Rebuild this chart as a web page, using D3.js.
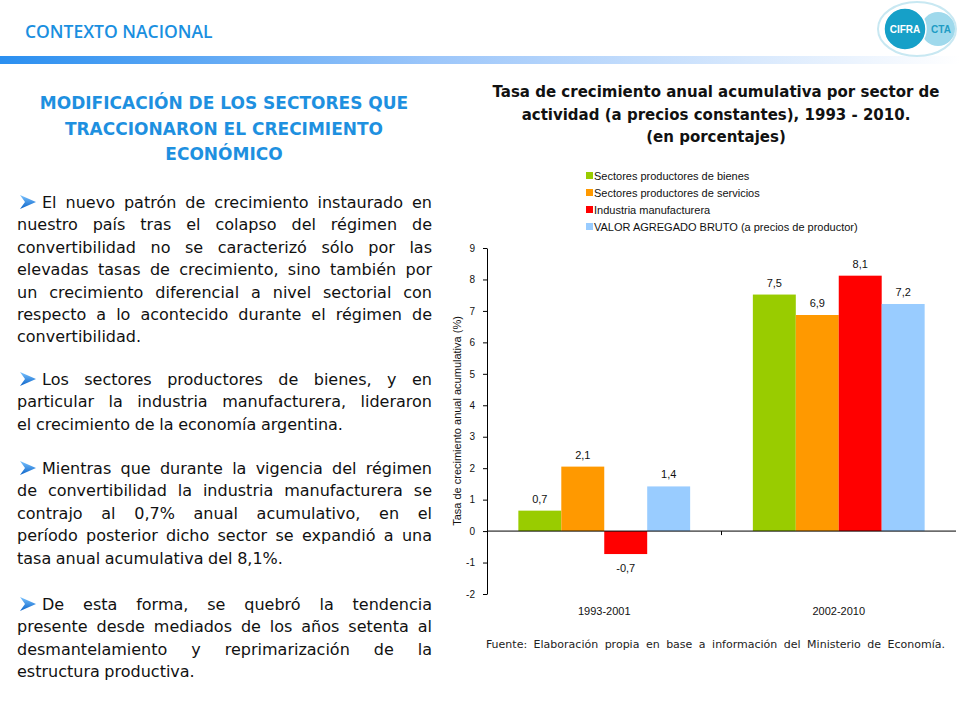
<!DOCTYPE html>
<html>
<head>
<meta charset="utf-8">
<script src="https://cdn.jsdelivr.net/npm/d3@7"></script>
<style>
  body { margin: 0; background: #fff; }
  svg { display: block; }
</style>
</head>
<body>
<svg id="svgId" width="960" height="720"></svg>
<script>
const svg = d3.select("svg");

// chart data
const periods = ["1993-2001", "2002-2010"];
const sectors = [
    "Sectores productores de bienes",
    "Sectores productores de servicios",
    "Industria manufacturera",
    "VALOR AGREGADO BRUTO (a precios de productor)"
];
const sectorColors = ["#99cc00", "#ff9900", "#ff0000", "#99ccff"];
const growth1993 = [0.65, 2.05, -0.73, 1.42];
const growth2002 = [7.52, 6.87, 8.12, 7.22];
const growthLabels1993 = ["0,7", "2,1", "-0,7", "1,4"];
const growthLabels2002 = ["7,5", "6,9", "8,1", "7,2"];
const yTicks = [-2, -1, 0, 1, 2, 3, 4, 5, 6, 7, 8, 9];

const titleLines = [
    "Tasa de crecimiento anual acumulativa por sector de",
    "actividad (a precios constantes), 1993 - 2010.",
    "(en porcentajes)"
];
const headingLines = [
    "MODIFICACIÓN DE LOS SECTORES QUE",
    "TRACCIONARON EL CRECIMIENTO",
    "ECONÓMICO"
];
// body paragraphs, one entry per printed line
const paragraphs = [
    ["El nuevo patrón de crecimiento instaurado en",
     "nuestro país tras el colapso del régimen de",
     "convertibilidad no se caracterizó sólo por las",
     "elevadas tasas de crecimiento, sino también por",
     "un crecimiento diferencial a nivel sectorial con",
     "respecto a lo acontecido durante el régimen de",
     "convertibilidad."],
    ["Los sectores productores de bienes, y en",
     "particular la industria manufacturera, lideraron",
     "el crecimiento de la economía argentina."],
    ["Mientras que durante la vigencia del régimen",
     "de convertibilidad la industria manufacturera se",
     "contrajo al 0,7% anual acumulativo, en el",
     "período posterior dicho sector se expandió a una",
     "tasa anual acumulativa del 8,1%."],
    ["De esta forma, se quebró la tendencia",
     "presente desde mediados de los años setenta al",
     "desmantelamiento y reprimarización de la",
     "estructura productiva."]
];
const paragraphTops = [208, 385, 474, 610];
const sourceText = "Fuente: Elaboración propia en base a información del Ministerio de Economía.";

const blue = "#1e90e0";
const slideFont = "'DejaVu Sans', sans-serif";
const chartFont = "'Liberation Sans', Arial, sans-serif";

// ---------- slide header ----------
const defs = svg.append("defs");
const grad = defs.append("linearGradient").attr("id", "bar-grad");
grad.append("stop").attr("offset", "0%").attr("stop-color", "#2a8ff0");
grad.append("stop").attr("offset", "45%").attr("stop-color", "#9cc6fa");
grad.append("stop").attr("offset", "100%").attr("stop-color", "#ffffff");
const arrowGrad = defs.append("linearGradient").attr("id", "arrow-grad")
    .attr("x1", "0").attr("y1", "0").attr("x2", "0").attr("y2", "1");
arrowGrad.append("stop").attr("offset", "0%").attr("stop-color", "#7cc4ff");
arrowGrad.append("stop").attr("offset", "100%").attr("stop-color", "#0a63c9");

svg.append("rect").attr("x", 0).attr("y", 56).attr("width", 960).attr("height", 8)
    .attr("fill", "url(#bar-grad)");

svg.append("text").attr("x", 25).attr("y", 38)
    .attr("font-family", "'Open Sans', sans-serif").attr("font-size", 17.5).attr("font-weight", 600)
    .attr("fill", "#1a8fe0")
    .text("CONTEXTO NACIONAL");

// logo
const logo = svg.append("g");
logo.append("ellipse").attr("cx", 917).attr("cy", 29).attr("rx", 39).attr("ry", 27)
    .attr("fill", "#fff").attr("stroke", "#c8e8f2").attr("stroke-width", 2);
logo.append("circle").attr("cx", 938).attr("cy", 29).attr("r", 17).attr("fill", "#9fd9ec");
logo.append("circle").attr("cx", 905).attr("cy", 29).attr("r", 21).attr("fill", "#16a0c8")
    .attr("stroke", "#ffffff").attr("stroke-width", 1.5);
logo.append("text").attr("x", 905).attr("y", 33).attr("text-anchor", "middle")
    .attr("font-family", chartFont).attr("font-weight", "bold").attr("font-size", 10)
    .attr("fill", "#fff").text("CIFRA");
logo.append("text").attr("x", 941).attr("y", 33).attr("text-anchor", "middle")
    .attr("font-family", chartFont).attr("font-weight", "bold").attr("font-size", 10)
    .attr("fill", "#1e9cc4").text("CTA");

// ---------- left column ----------
svg.append("g").selectAll("text")
    .data(headingLines)
    .enter()
    .append("text")
    .attr("x", 224)
    .attr("y", (d, i) => 109 + i * 25.5)
    .attr("text-anchor", "middle")
    .attr("font-family", slideFont).attr("font-size", 17).attr("font-weight", "bold")
    .attr("fill", blue)
    .text(d => d);

const bodyLeft = 17, bodyRight = 432, lineGap = 22.4;
const body = svg.append("g").attr("font-family", slideFont).attr("font-size", 16).attr("fill", "#111");

paragraphs.forEach(function (lines, p) {
    const top = paragraphTops[p];
    // arrow bullet
    body.append("path")
        .attr("d", `M${bodyLeft + 3},${top - 13} L${bodyLeft + 19},${top - 6} L${bodyLeft + 3},${top + 1} L${bodyLeft + 8},${top - 6} Z`)
        .attr("fill", "url(#arrow-grad)");

    lines.forEach(function (line, i) {
        const y = top + i * lineGap;
        const x0 = i === 0 ? bodyLeft + 25 : bodyLeft;
        const words = line.split(" ");
        const last = i === lines.length - 1;
        const t = body.append("text").attr("y", y);
        const spans = words.map(w => t.append("tspan").text(w));
        const widths = spans.map(s => s.node().getComputedTextLength());
        const total = d3.sum(widths);
        let gap = 4.6;
        if (!last && words.length > 1) gap = Math.max(2, (bodyRight - x0 - total) / (words.length - 1));
        let x = x0;
        spans.forEach(function (s, k) {
            s.attr("x", x);
            x += widths[k] + gap;
        });
    });
});

// ---------- chart ----------
const margin = {left: 487, right: 956, top: 248, bottom: 594};

const y = d3.scaleLinear().domain([-2, 9]).range([margin.bottom, margin.top]);
const x0 = d3.scaleBand().domain(periods).range([margin.left, margin.right])
    .paddingInner(0).paddingOuter(0);
const x1 = d3.scaleBand().domain(sectors).range([0, x0.bandwidth()])
    .paddingInner(0).paddingOuter(0.73);

const chart = svg.append("g").attr("font-family", chartFont);

chart.selectAll("text.title")
    .data(titleLines)
    .enter()
    .append("text")
    .attr("class", "title")
    .attr("x", 716)
    .attr("y", (d, i) => 97 + i * 22.5)
    .attr("text-anchor", "middle")
    .attr("font-family", slideFont).attr("font-weight", "bold").attr("font-size", 15)
    .attr("fill", "#111")
    .text(d => d);

// legend
const legend = chart.append("g");
sectors.forEach(function (s, i) {
    legend.append("rect").attr("x", 586).attr("y", 172 + i * 17).attr("width", 7).attr("height", 7)
        .attr("fill", sectorColors[i]);
    legend.append("text").attr("x", 594).attr("y", 180 + i * 17)
        .attr("font-size", 11).attr("fill", "#111").text(s);
});

// bars
const groups = [growth1993, growth2002];
const labelSets = [growthLabels1993, growthLabels2002];
periods.forEach(function (period, g) {
    const grp = chart.append("g").attr("transform", `translate(${x0(period)},0)`);
    grp.selectAll("rect")
        .data(sectors)
        .enter()
        .append("rect")
        .attr("x", d => x1(d))
        .attr("width", x1.bandwidth())
        .attr("y", (d, i) => y(Math.max(0, groups[g][i])))
        .attr("height", (d, i) => Math.abs(y(groups[g][i]) - y(0)))
        .attr("fill", (d, i) => sectorColors[i]);
    grp.selectAll("text")
        .data(sectors)
        .enter()
        .append("text")
        .attr("x", d => x1(d) + x1.bandwidth() / 2)
        .attr("y", (d, i) => groups[g][i] >= 0 ? y(groups[g][i]) - 8 : y(groups[g][i]) + 18)
        .attr("text-anchor", "middle")
        .attr("font-size", 11).attr("fill", "#111")
        .text((d, i) => labelSets[g][i]);
});

// y axis
const yAxis = chart.append("g")
    .attr("transform", `translate(${margin.left},0)`)
    .call(d3.axisLeft(y).tickValues(yTicks).tickFormat(d => String(d))
        .tickSize(4).tickSizeOuter(0).tickPadding(8));
yAxis.select(".domain").attr("stroke", "#000");
yAxis.selectAll("text").attr("font-family", chartFont).attr("font-size", 10).attr("fill", "#111");

// zero line with category separators
chart.append("line")
    .attr("x1", margin.left).attr("x2", margin.right)
    .attr("y1", y(0)).attr("y2", y(0))
    .attr("stroke", "#000");
chart.selectAll("line.sep")
    .data(periods.slice(1))
    .enter()
    .append("line")
    .attr("class", "sep")
    .attr("x1", d => x0(d)).attr("x2", d => x0(d))
    .attr("y1", y(0)).attr("y2", y(0) + 4)
    .attr("stroke", "#000");

chart.selectAll("text.cat")
    .data(periods)
    .enter()
    .append("text")
    .attr("class", "cat")
    .attr("x", d => x0(d) + x0.bandwidth() / 2)
    .attr("y", 615)
    .attr("text-anchor", "middle")
    .attr("font-size", 11).attr("fill", "#111")
    .text(d => d);

chart.append("text")
    .attr("transform", `translate(461,${(margin.top + margin.bottom) / 2}) rotate(-90)`)
    .attr("text-anchor", "middle")
    .attr("font-size", 11).attr("fill", "#111")
    .text("Tasa de crecimiento anual acumulativa (%)");

chart.append("text")
    .attr("x", 945).attr("y", 648)
    .attr("text-anchor", "end")
    .attr("font-family", slideFont).attr("font-size", 11).attr("fill", "#222")
    .attr("word-spacing", 3)
    .text(sourceText);
</script>
</body>
</html>
